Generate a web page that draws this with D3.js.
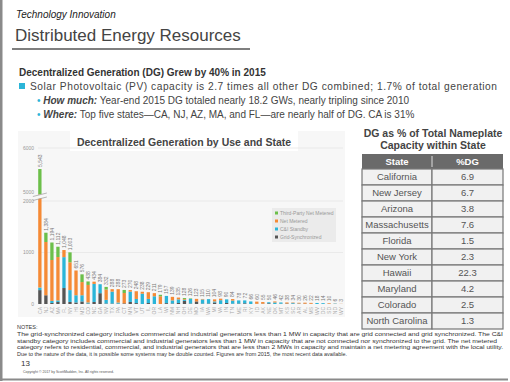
<!DOCTYPE html>
<html><head><meta charset="utf-8">
<script src="https://cdn.jsdelivr.net/npm/d3@7"></script>
<style>
html,body{margin:0;padding:0;background:#fff;}
svg{display:block;font-family:"Liberation Sans",Arial,sans-serif;}
</style></head>
<body><svg id="c" width="510" height="382"></svg>
<script>
const states = ["CA","NJ","AZ","MA","FL","NY","HI","MD","CO","NC","GA","NV","TX","PA","CT","MN","VT","UT","IL","OR","LA","WI","NM","NH","OH","DE","MO","IA","WA","MI","VA","IN","TN","ME","RI","KY","ID","AK","NE","OK","MT","KS","SC","AR","AL","MS","WV","DC","SD","ND","WY"];
const gridSync = [270,170,20,40,310,40,30,50,10,40,210,10,10,8,13,40,18,0,19,0,0,17,10,20,60,10,50,8,10,30,0,20,6,10,14,0,4,6,14,0,6,10,8,4,6,4,0,2,3,2,1];
const cniStandby = [50,0,40,30,600,230,140,120,20,350,174,70,230,20,0,200,80,200,80,150,0,140,60,70,20,90,0,80,85,20,74,70,60,60,56,50,0,0,20,30,24,0,14,6,0,0,20,16,0,6,0];
const netMetered = [4523,1034,794,842,138,540,481,256,340,44,0,200,48,260,200,30,150,38,130,61,150,0,69,35,15,0,50,10,0,40,30,0,30,0,0,0,42,32,0,20,0,20,8,14,20,18,0,0,12,2,2];
const thirdParty = [700,180,340,200,0,193,0,150,68,0,0,52,0,0,60,0,0,0,0,0,29,0,0,0,20,10,0,0,0,0,0,0,0,0,0,0,0,0,0,0,0,0,0,0,0,0,0,0,0,0,0];
const totalLabels = ["5,543","1,384","1,194","1,112","1,048","1,003","651","576","438","434","384","332","288","288","273","270","248","238","229","211","179","157","139","135","128","126","123","115","110","104","98","90","84","78","72","66","60","55","50","46","42","38","34","30","26","22","18","14","10","6","3"];
const yTicks = [0,1000,2000,5000,6000];
const seriesNames = ["Grid-Synchronized","C&I Standby","Net Metered","Third-Party Net Metered"];
const seriesColors = ["#555555","#2bb5d8","#f58a35","#6cbf4a"];
const tableStates = ["California","New Jersey","Arizona","Massachusetts","Florida","New York","Hawaii","Maryland","Colorado","North Carolina"];
const tablePct = ["6.9","6.7","3.8","7.6","1.5","2.3","22.3","4.2","2.5","1.3"];
const notes = [
 "The grid-synchronized category includes commercial and industrial generators less than 1 MW in capacity that are grid connected and grid synchronized. The C&I",
 "standby category includes commercial and industrial generators less than 1 MW in capacity that are not connected nor synchronized to the grid. The net metered",
 "category refers to residential, commercial, and industrial generators that are less than 2 MWs in capacity and maintain a net metering agreement with the local utility.",
 "Due to the nature of the data, it is possible some systems may be double counted. Figures are from 2015, the most recent data available."
];

const svg = d3.select("#c");
// frame
svg.append("rect").attr("x",0).attr("y",0).attr("width",2.5).attr("height",381).attr("fill","#8a8a8a");
svg.append("rect").attr("x",0).attr("y",378.5).attr("width",508).attr("height",2).attr("fill","#8a8a8a");

// header
svg.append("text").attr("x",16).attr("y",18).attr("font-size",10).attr("font-style","italic").attr("fill","#222").text("Technology Innovation");
svg.append("text").attr("x",15).attr("y",41).attr("font-size",17).attr("fill","#444").text("Distributed Energy Resources");
svg.append("line").attr("x1",12).attr("x2",250).attr("y1",49).attr("y2",49).attr("stroke","#555").attr("stroke-width",1.5);

svg.append("text").attr("x",19).attr("y",76).attr("font-size",10).attr("font-weight","bold").attr("fill","#333").text("Decentralized Generation (DG) Grew by 40% in 2015");
svg.append("rect").attr("x",19).attr("y",83).attr("width",6).attr("height",6).attr("fill","#2bb5d8");
svg.append("text").attr("x",30).attr("y",90).attr("font-size",10.2).attr("fill","#444")
  .attr("textLength",467).attr("lengthAdjust","spacing")
  .text("Solar Photovoltaic (PV) capacity is 2.7 times all other DG combined; 1.7% of total generation");
const b2 = svg.append("text").attr("x",37).attr("y",104).attr("font-size",10).attr("fill","#444");
b2.append("tspan").attr("fill","#2bb5d8").text("• ");
b2.append("tspan").attr("font-weight","bold").attr("font-style","italic").text("How much:");
b2.append("tspan").text(" Year-end 2015 DG totaled nearly 18.2 GWs, nearly tripling since 2010");
const b3 = svg.append("text").attr("x",37).attr("y",118).attr("font-size",10).attr("fill","#444");
b3.append("tspan").attr("fill","#2bb5d8").text("• ");
b3.append("tspan").attr("font-weight","bold").attr("font-style","italic").text("Where:");
b3.append("tspan").text(" Top five states\u2014CA, NJ, AZ, MA, and FL\u2014are nearly half of DG. CA is 31%");

// chart panel
svg.append("rect").attr("x",18).attr("y",131).attr("width",327).attr("height",186).attr("fill","#f7f7f7");
svg.append("rect").attr("x",70).attr("y",131).attr("width",228).attr("height",20).attr("fill","#fff");
svg.append("text").attr("x",184).attr("y",146).attr("text-anchor","middle").attr("font-size",10.5).attr("font-weight","bold").attr("fill","#444").text("Decentralized Generation by Use and State");

const y = d3.scaleLinear().domain([0,2000,5000,6000]).range([304,201,194,148]);
const x = d3.scaleBand().domain(states).range([37,344]).paddingInner(0.45).paddingOuter(0.2);

// gridlines
svg.append("g").selectAll("line").data([1000,2000,6000]).join("line")
  .attr("x1",38).attr("x2",343).attr("y1",d=>y(d)).attr("y2",d=>y(d))
  .attr("stroke","#e6e6e6").attr("stroke-width",0.8);

// y labels
svg.append("g").selectAll("text").data(yTicks).join("text")
  .attr("x",34).attr("y",d=>y(d)+(d===5000?-0.5:1.8)).attr("text-anchor","end")
  .attr("font-size",5).attr("fill","#999").text(d=>d);

const data = states.map((s,i)=>({state:s, g:gridSync[i], c:cniStandby[i], n:netMetered[i], t:thirdParty[i]}));
const stack = d3.stack().keys(["g","c","n","t"])(data);
svg.append("g").selectAll("g").data(stack).join("g").attr("fill",(d,i)=>seriesColors[i])
  .selectAll("rect").data(d=>d).join("rect")
  .attr("x",d=>x(d.data.state)).attr("width",x.bandwidth())
  .attr("y",d=>y(d[1])).attr("height",d=>Math.max(0,y(d[0])-y(d[1])));

// axis break
const bx = x("CA")+x.bandwidth()/2;
svg.append("path").attr("d",`M${bx-6},${y(2000)-1} L${bx+6},${y(2000)-4} L${bx+6},${y(5000)-1} L${bx-6},${y(5000)+2} Z`).attr("fill","#f7f7f7");
svg.append("line").attr("x1",bx-7).attr("x2",bx+7).attr("y1",y(2000)-0.5).attr("y2",y(2000)-4).attr("stroke","#999").attr("stroke-width",0.7);
svg.append("line").attr("x1",bx-7).attr("x2",bx+7).attr("y1",y(5000)+2.5).attr("y2",y(5000)-1).attr("stroke","#999").attr("stroke-width",0.7);
svg.append("line").attr("x1",26).attr("x2",bx-7).attr("y1",y(2000)).attr("y2",y(2000)).attr("stroke","#ccc").attr("stroke-width",0.6);

// total labels
const totals = data.map(d=>d.g+d.c+d.n+d.t);
svg.append("g").selectAll("text").data(states).join("text")
  .attr("transform",(d,i)=>`translate(${x(d)+x.bandwidth()/2+1.8},${y(totals[i])-2}) rotate(-90)`)
  .attr("font-size",5).attr("fill","#777").text((d,i)=>totalLabels[i]);

// x labels
svg.append("g").selectAll("text").data(states).join("text")
  .attr("transform",d=>`translate(${x(d)+x.bandwidth()/2+1.8},307) rotate(-90)`)
  .attr("text-anchor","end").attr("font-size",5).attr("fill","#aaa").text(d=>d);

// legend
svg.append("rect").attr("x",272).attr("y",208).attr("width",64).attr("height",34).attr("fill","#ebebeb");
const legOrder = [3,2,1,0];
legOrder.forEach((k,j)=>{
  svg.append("rect").attr("x",275).attr("y",211.5+j*8).attr("width",3).attr("height",3).attr("fill",seriesColors[k]);
  svg.append("text").attr("x",280).attr("y",215+j*8).attr("font-size",5).attr("fill","#999").text(seriesNames[k]);
});

// table
svg.append("text").attr("x",433).attr("y",137).attr("text-anchor","middle").attr("font-size",10.5).attr("font-weight","bold").attr("fill","#444").text("DG as % of Total Nameplate");
svg.append("text").attr("x",433).attr("y",149).attr("text-anchor","middle").attr("font-size",10.5).attr("font-weight","bold").attr("fill","#444").text("Capacity within State");
const tx0=362, tx1=432, tx2=503, ty0=154, hh=15, rh=16;
svg.append("rect").attr("x",tx0).attr("y",ty0).attr("width",tx2-tx0).attr("height",hh).attr("fill","#6a6a6a");
svg.append("text").attr("x",(tx0+tx1)/2).attr("y",ty0+10.5).attr("text-anchor","middle").attr("font-size",9.5).attr("font-weight","bold").attr("fill","#fff").text("State");
svg.append("text").attr("x",(tx1+tx2)/2).attr("y",ty0+10.5).attr("text-anchor","middle").attr("font-size",9.5).attr("font-weight","bold").attr("fill","#fff").text("%DG");
svg.append("line").attr("x1",tx1).attr("x2",tx1).attr("y1",ty0+2).attr("y2",ty0+hh-2).attr("stroke","#ddd").attr("stroke-width",1);
const rows = svg.append("g").selectAll("g").data(tableStates).join("g")
  .attr("transform",(d,i)=>`translate(0,${ty0+hh+i*rh})`);
rows.append("rect").attr("x",tx0).attr("width",tx1-tx0).attr("height",rh).attr("fill","#f1f1f1").attr("stroke","#777").attr("stroke-width",1.2);
rows.append("rect").attr("x",tx1).attr("width",tx2-tx1).attr("height",rh).attr("fill","#f1f1f1").attr("stroke","#777").attr("stroke-width",1.2);
rows.append("text").attr("x",(tx0+tx1)/2).attr("y",rh/2+3.3).attr("text-anchor","middle").attr("font-size",9.5).attr("fill","#555").text(d=>d);
rows.append("text").attr("x",(tx1+tx2)/2).attr("y",rh/2+3.3).attr("text-anchor","middle").attr("font-size",9.5).attr("fill","#555").text((d,i)=>tablePct[i]);

// notes
svg.append("text").attr("x",17).attr("y",329).attr("font-size",5.5).attr("fill","#333").text("NOTES:");
const noteW = [486,480,486,330];
notes.forEach((t,i)=>{
  svg.append("text").attr("x",17).attr("y",336+i*6.6).attr("font-size",5.3).attr("fill","#333")
    .attr("textLength",noteW[i]).attr("lengthAdjust","spacingAndGlyphs").text(t);
});
svg.append("text").attr("x",21).attr("y",366).attr("font-size",8).attr("fill","#333").text("13");
svg.append("text").attr("x",23).attr("y",373).attr("font-size",3.5).attr("fill","#555").text("Copyright \u00a9 2017 by ScottMadden, Inc. All rights reserved.");
</script></body></html>
